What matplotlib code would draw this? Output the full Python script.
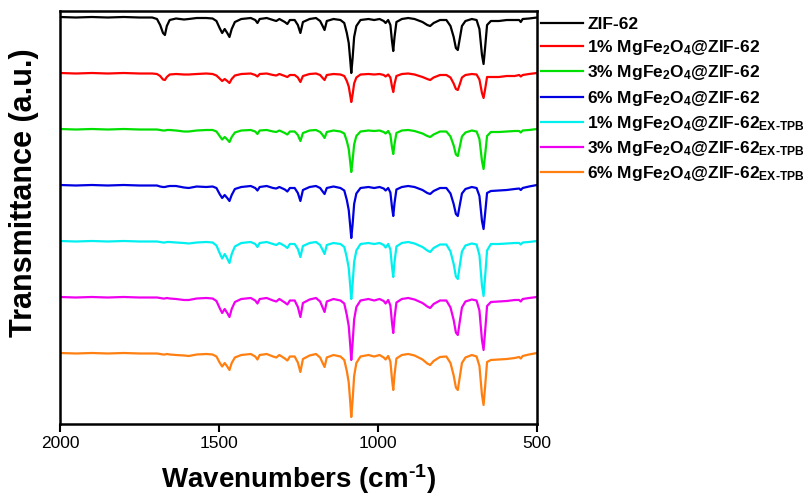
"""FTIR spectra of ZIF-62 and MgFe2O4@ZIF-62 composites (stacked)."""

import numpy as np
import matplotlib
matplotlib.use('Agg')
import matplotlib.pyplot as plt

plt.rcParams['font.family'] = ['Liberation Sans', 'DejaVu Sans']
plt.rcParams['mathtext.fontset'] = 'custom'
plt.rcParams['mathtext.rm'] = 'Liberation Sans:bold'
plt.rcParams['mathtext.bf'] = 'Liberation Sans:bold'
plt.rcParams['mathtext.it'] = 'Liberation Sans:bold'

# ─────────────────────────────────────────────
#  データ (波数 と 各試料のバンド深さ, a.u.)
# ─────────────────────────────────────────────
wavenumber = [
    2000, 1950, 1900, 1850, 1800, 1750, 1710, 1695, 1685, 1676, 1670, 1664, 1655,
    1635, 1610, 1595, 1570, 1540, 1520, 1508, 1498, 1490, 1482, 1474, 1467, 1460,
    1450, 1430, 1400, 1386, 1379, 1372, 1350, 1330, 1320, 1310, 1293, 1285, 1277,
    1262, 1252, 1244, 1236, 1215, 1195, 1182, 1174, 1168, 1161, 1140, 1118, 1106,
    1098, 1092, 1087, 1084, 1080, 1075, 1068, 1055, 1030, 1012, 995, 982, 976,
    968, 961, 956, 952, 948, 942, 925, 905, 885, 860, 845, 836, 825, 805,
    785, 772, 762, 755, 749, 743, 736, 725, 705, 690, 681, 673, 668, 663,
    657, 645, 620, 595, 570, 556, 551, 545, 525, 500,
]

depth_zif62 = [
    0, 0.5, 0, 0.5, 0, 0.5, 0.5, 2, 8, 16, 18, 9, 3,
    1.5, 2.5, 2, 1, 1, 1.5, 4, 11, 16, 12, 16, 20, 12,
    5, 2, 1, 3, 6, 2, 1, 3, 4, 2, 5, 7, 3,
    3, 8, 16, 5, 2, 1, 4, 9, 13, 4, 2, 3, 6,
    16, 26, 44, 56, 42, 20, 9, 3, 2, 3, 2, 4, 6,
    3, 8, 24, 34, 20, 5, 2, 1, 2, 5, 8, 9, 6, 3,
    3, 9, 20, 31, 33, 22, 9, 4, 2, 3, 12, 38, 47, 30,
    8, 4, 4, 3, 3, 3, 5, 2, 1.5, 0.5,
]
depth_1pct = [
    0, 0.5, 0, 0.5, 0, 0.5, 0.5, 1, 3, 6.5, 7, 4, 1.5,
    1, 1.5, 1.5, 1, 0.5, 1, 2.5, 5.5, 8, 6, 8, 10, 6,
    2.5, 1, 0.5, 2, 3.5, 1, 0.5, 2, 2.5, 1, 3, 4, 2,
    2, 4.5, 9, 3, 1, 0.5, 2, 5, 7, 2, 1, 1.5, 3,
    8, 13.5, 23, 29, 22, 10.5, 4.5, 1.5, 1, 1.5, 1, 2, 3.5,
    1.5, 4.5, 13.5, 19, 11, 3, 1, 0.5, 1.5, 4, 6, 7, 4.5, 2,
    2, 4.5, 10.5, 16, 17, 11.5, 4.5, 2, 1, 1.5, 6.5, 20, 25, 16,
    4, 4, 4, 3, 3, 2, 3.5, 2, 1, 0,
]
depth_3pct = [
    0, 0.5, 0, 0.5, 0, 0.5, 0.5, 0.5, 1, 1.5, 1.5, 1, 1,
    1.5, 2.5, 2.5, 1.5, 1, 1, 2.5, 7, 10.5, 8, 10.5, 13, 8,
    3.5, 1.5, 1, 2.5, 5, 1.5, 1, 2.5, 3, 1.5, 4, 5.5, 2.5,
    2.5, 6, 12, 4, 1.5, 1, 3, 6, 9, 3, 1.5, 2.5, 4.5,
    12, 20, 34, 43, 32, 15.5, 7, 2.5, 1.5, 2, 1.5, 3, 4.5,
    2, 6, 18, 25, 15, 4, 1.5, 1, 2, 4.5, 7, 8, 5.5, 2.5,
    2.5, 7.5, 16.5, 25.5, 27, 18, 7.5, 3.5, 1.5, 2.5, 10, 32, 40, 25.5,
    7, 3, 3, 2.5, 2, 2, 3.5, 1.5, 1, 0,
]
depth_6pct = [
    0, 0.5, 0, 0.5, 0, 0.5, 0.5, 0.5, 1.5, 2, 2, 1.5, 1,
    1, 2.5, 3, 1.5, 2, 1.5, 3, 9, 13, 10, 13, 16, 10,
    4, 2, 1, 3, 5.5, 2, 1, 3, 3.5, 2, 4.5, 6.5, 3,
    3, 8, 16, 5, 2, 1, 3, 6.5, 9, 3, 1.5, 3, 5.5,
    15, 25, 42, 53, 40, 19, 8.5, 3, 2, 3, 2, 3.5, 5.5,
    3, 7.5, 22, 31, 18, 4.5, 2, 1, 2, 5, 8, 9, 6, 3,
    3, 8.5, 19, 29, 31, 20.5, 8.5, 4, 2, 3, 11, 36, 44, 28,
    8, 6, 5.5, 5, 4, 3.5, 5, 3, 1.5, 0,
]
depth_1pct_ex = [
    0, 0.5, 0, 0.5, 0, 0.5, 0.5, 0.5, 1, 1.5, 1.5, 1, 1,
    1.5, 2, 2.5, 1.5, 1, 1.5, 4.5, 12, 17.5, 13, 17.5, 22, 13,
    5.5, 2, 1, 3, 6, 2, 1, 3, 4, 2, 5, 7, 3,
    3, 8, 16, 5, 2, 1, 4, 9, 13, 4, 2, 3, 6,
    16.5, 27, 46, 58, 44, 21, 9.5, 3, 2, 3, 2, 4, 6.5,
    3, 8.5, 25.5, 36, 21, 5.5, 2, 1, 2.5, 6, 9.5, 11, 7, 3.5,
    3.5, 10.5, 23, 35.5, 38, 25, 10.5, 4.5, 2.5, 3.5, 14, 44.5, 55, 35,
    9.5, 3, 3, 2.5, 2, 2, 3.5, 1.5, 1, 0,
]
depth_3pct_ex = [
    0, 0.5, 0, 0.5, 0, 0.5, 0.5, 0.5, 1, 1.5, 1.5, 1, 1.5,
    2, 3, 3, 1.5, 1, 1.5, 4, 11, 16, 12, 16, 20, 12,
    5, 2, 1, 3.5, 6.5, 2, 1, 3.5, 4.5, 2, 5.5, 7.5, 3.5,
    3.5, 10, 20, 6, 2.5, 1, 4.5, 10.5, 15, 4.5, 2, 3.5, 6.5,
    18, 29, 49, 63, 47, 22.5, 10, 3.5, 2, 3.5, 2, 4, 6.5,
    3, 8.5, 25.5, 36, 21, 5.5, 2, 1, 2.5, 6, 9.5, 11, 7, 3.5,
    3.5, 10.5, 23, 35.5, 38, 25, 10.5, 4.5, 2.5, 3.5, 13.5, 43, 53, 34,
    9, 5, 4.5, 4, 3, 3, 4.5, 2, 1, 0,
]
depth_6pct_ex = [
    0, 0.5, 0, 0.5, 0, 0.5, 0.5, 0.5, 1, 1.5, 1.5, 1, 1.5,
    2, 2.5, 3, 1.5, 1, 1.5, 3.5, 9.5, 13.5, 10, 13.5, 17, 10,
    4.5, 2, 1, 3.5, 6.5, 2, 1, 3.5, 4.5, 2, 5.5, 7.5, 3.5,
    3.5, 9.5, 19, 6, 2.5, 1, 4.5, 10, 14, 4.5, 2, 3.5, 7,
    18, 29.5, 50, 64, 48, 23, 10, 3.5, 2, 3.5, 2, 4.5, 6.5,
    3, 8.5, 26, 37, 22, 5.5, 2, 1, 2.5, 6.5, 10.5, 12, 8, 4,
    3.5, 10, 22.5, 34.5, 37, 24.5, 10, 4.5, 2, 3.5, 13, 42, 52, 33,
    9, 7, 6.5, 6, 5, 4, 5.5, 3, 1.5, 0,
]

labels = [
    'ZIF-62',
    r'1% MgFe$_{2}$O$_{4}$@ZIF-62',
    r'3% MgFe$_{2}$O$_{4}$@ZIF-62',
    r'6% MgFe$_{2}$O$_{4}$@ZIF-62',
    r'1% MgFe$_{2}$O$_{4}$@ZIF-62$_{\text{EX-TPB}}$',
    r'3% MgFe$_{2}$O$_{4}$@ZIF-62$_{\text{EX-TPB}}$',
    r'6% MgFe$_{2}$O$_{4}$@ZIF-62$_{\text{EX-TPB}}$',
]
series = [depth_zif62, depth_1pct, depth_3pct, depth_6pct,
          depth_1pct_ex, depth_3pct_ex, depth_6pct_ex]
colors = ['#000000', '#ff0000', '#00e000', '#0000e0', '#00f0f0', '#f000f0', '#ff7f10']

# ─────────────────────────────────────────────
#  描画
# ─────────────────────────────────────────────
baseline = 100
offset_step = 56

fig = plt.figure(figsize=(8.04, 4.98), dpi=100)
ax = fig.add_axes([0.0746, 0.1486, 0.5933, 0.8293])

wn = np.array(wavenumber)
for i, (d, lab, c) in enumerate(zip(series, labels, colors)):
    y = baseline - np.array(d) - i * offset_step
    ax.plot(wn, y, color=c, lw=1.6, label=lab)

ax.set_xlim(2000, 500)
ax.set_ylim(-307, 106)
ax.set_xticks([2000, 1500, 1000, 500])
ax.set_yticks([])
ax.tick_params(axis='x', direction='out', length=6, width=1.5, labelsize=12.5, pad=3)
for s in ax.spines.values():
    s.set_linewidth(1.8)

ax.set_xlabel(r'Wavenumbers (cm$^{\text{-1}}$)', fontsize=20, fontweight='bold', labelpad=8)
ax.set_ylabel('Transmittance (a.u.)', fontsize=22, fontweight='bold')
ax.yaxis.set_label_coords(-0.045, 0.56)

leg = ax.legend(loc='upper left', bbox_to_anchor=(0.994, 1.003), frameon=False,
                handlelength=2.4, handletextpad=0.25, borderaxespad=0.0,
                labelspacing=0.36, prop={'weight': 'bold', 'size': 12.5})

plt.savefig('out.png', dpi=100)
plt.close()
